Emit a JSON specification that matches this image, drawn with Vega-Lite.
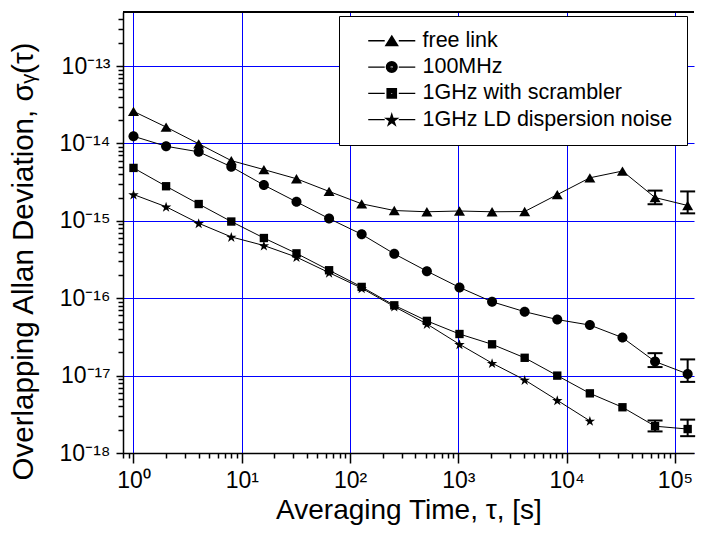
{
  "$schema": "https://vega.github.io/schema/vega-lite/v6.json",
  "width": 571,
  "height": 441,
  "autosize": "none",
  "padding": {"left": 123, "top": 12, "right": 8, "bottom": 82},
  "background": "white",
  "config": {"font": "Liberation Sans", "view": {"stroke": null}},
  "resolve": {"scale": {"shape": "independent"}},
  "data": {"values": [
    {"s": "free link", "t": 1, "v": 2.6e-14},
    {"s": "free link", "t": 2, "v": 1.63e-14},
    {"s": "free link", "t": 4, "v": 9.9e-15},
    {"s": "free link", "t": 8, "v": 6.0e-15},
    {"s": "free link", "t": 16, "v": 4.6e-15},
    {"s": "free link", "t": 32, "v": 3.5e-15},
    {"s": "free link", "t": 64, "v": 2.4e-15},
    {"s": "free link", "t": 128, "v": 1.66e-15},
    {"s": "free link", "t": 256, "v": 1.36e-15},
    {"s": "free link", "t": 512, "v": 1.31e-15},
    {"s": "free link", "t": 1024, "v": 1.34e-15},
    {"s": "free link", "t": 2048, "v": 1.31e-15},
    {"s": "free link", "t": 4096, "v": 1.32e-15},
    {"s": "free link", "t": 8192, "v": 2.18e-15},
    {"s": "free link", "t": 16384, "v": 3.6e-15},
    {"s": "free link", "t": 32768, "v": 4.4e-15},
    {"s": "free link", "t": 65536, "v": 2.0e-15, "lo": 1.64e-15, "hi": 2.46e-15},
    {"s": "free link", "t": 131072, "v": 1.58e-15, "lo": 1.25e-15, "hi": 2.4e-15},
    {"s": "100MHz", "t": 1, "v": 1.24e-14},
    {"s": "100MHz", "t": 2, "v": 9.2e-15},
    {"s": "100MHz", "t": 4, "v": 7.8e-15},
    {"s": "100MHz", "t": 8, "v": 5.0e-15},
    {"s": "100MHz", "t": 16, "v": 2.9e-15},
    {"s": "100MHz", "t": 32, "v": 1.76e-15},
    {"s": "100MHz", "t": 64, "v": 1.07e-15},
    {"s": "100MHz", "t": 128, "v": 6.7e-16},
    {"s": "100MHz", "t": 256, "v": 3.75e-16},
    {"s": "100MHz", "t": 512, "v": 2.24e-16},
    {"s": "100MHz", "t": 1024, "v": 1.38e-16},
    {"s": "100MHz", "t": 2048, "v": 9.0e-17},
    {"s": "100MHz", "t": 4096, "v": 6.7e-17},
    {"s": "100MHz", "t": 8192, "v": 5.3e-17},
    {"s": "100MHz", "t": 16384, "v": 4.5e-17},
    {"s": "100MHz", "t": 32768, "v": 3.1e-17},
    {"s": "100MHz", "t": 65536, "v": 1.52e-17, "lo": 1.29e-17, "hi": 1.95e-17},
    {"s": "100MHz", "t": 131072, "v": 1.05e-17, "lo": 8.3e-18, "hi": 1.62e-17},
    {"s": "1GHz with scrambler", "t": 1, "v": 4.83e-15},
    {"s": "1GHz with scrambler", "t": 2, "v": 2.8e-15},
    {"s": "1GHz with scrambler", "t": 4, "v": 1.65e-15},
    {"s": "1GHz with scrambler", "t": 8, "v": 9.8e-16},
    {"s": "1GHz with scrambler", "t": 16, "v": 6.0e-16},
    {"s": "1GHz with scrambler", "t": 32, "v": 3.8e-16},
    {"s": "1GHz with scrambler", "t": 64, "v": 2.3e-16},
    {"s": "1GHz with scrambler", "t": 128, "v": 1.4e-16},
    {"s": "1GHz with scrambler", "t": 256, "v": 8.1e-17},
    {"s": "1GHz with scrambler", "t": 512, "v": 5.1e-17},
    {"s": "1GHz with scrambler", "t": 1024, "v": 3.45e-17},
    {"s": "1GHz with scrambler", "t": 2048, "v": 2.54e-17},
    {"s": "1GHz with scrambler", "t": 4096, "v": 1.7e-17},
    {"s": "1GHz with scrambler", "t": 8192, "v": 1.0e-17},
    {"s": "1GHz with scrambler", "t": 16384, "v": 5.9e-18},
    {"s": "1GHz with scrambler", "t": 32768, "v": 3.9e-18},
    {"s": "1GHz with scrambler", "t": 65536, "v": 2.22e-18, "lo": 1.9e-18, "hi": 2.63e-18},
    {"s": "1GHz with scrambler", "t": 131072, "v": 2.04e-18, "lo": 1.65e-18, "hi": 2.7e-18},
    {"s": "1GHz LD dispersion noise", "t": 1, "v": 2.19e-15},
    {"s": "1GHz LD dispersion noise", "t": 2, "v": 1.52e-15},
    {"s": "1GHz LD dispersion noise", "t": 4, "v": 9.3e-16},
    {"s": "1GHz LD dispersion noise", "t": 8, "v": 6.2e-16},
    {"s": "1GHz LD dispersion noise", "t": 16, "v": 4.8e-16},
    {"s": "1GHz LD dispersion noise", "t": 32, "v": 3.4e-16},
    {"s": "1GHz LD dispersion noise", "t": 64, "v": 2.14e-16},
    {"s": "1GHz LD dispersion noise", "t": 128, "v": 1.35e-16},
    {"s": "1GHz LD dispersion noise", "t": 256, "v": 7.8e-17},
    {"s": "1GHz LD dispersion noise", "t": 512, "v": 4.65e-17},
    {"s": "1GHz LD dispersion noise", "t": 1024, "v": 2.54e-17},
    {"s": "1GHz LD dispersion noise", "t": 2048, "v": 1.45e-17},
    {"s": "1GHz LD dispersion noise", "t": 4096, "v": 8.8e-18},
    {"s": "1GHz LD dispersion noise", "t": 8192, "v": 4.8e-18},
    {"s": "1GHz LD dispersion noise", "t": 16384, "v": 2.6e-18}
  ]},
  "encoding": {
    "x": {
      "field": "t", "type": "quantitative",
      "scale": {"type": "log", "domain": [0.8, 150000], "nice": false},
      "axis": {
        "values": [0.8, 0.9, 1, 2, 3, 4, 5, 6, 7, 8, 9, 10, 20, 30, 40, 50, 60, 70, 80, 90, 100, 200, 300, 400, 500, 600, 700, 800, 900, 1000, 2000, 3000, 4000, 5000, 6000, 7000, 8000, 9000, 10000, 20000, 30000, 40000, 50000, 60000, 70000, 80000, 90000, 100000],
        "labelExpr": "abs(log(datum.value)/LN10 - round(log(datum.value)/LN10)) < 1e-6 ? '10' + substring('⁰¹²³⁴⁵⁶⁷⁸⁹', round(log(datum.value)/LN10), round(log(datum.value)/LN10) + 1) : ''",
        "tickSize": {"condition": {"test": "abs(log(datum.value)/LN10 - round(log(datum.value)/LN10)) < 1e-6", "value": 10}, "value": 5},
        "grid": true,
        "gridColor": "#0000ff",
        "gridWidth": 1,
        "gridOpacity": {"condition": {"test": "abs(log(datum.value)/LN10 - round(log(datum.value)/LN10)) < 1e-6", "value": 1}, "value": 0},
        "domainColor": "black", "domainWidth": 1.5,
        "tickColor": "black", "tickWidth": 1.5,
        "labelFont": "Liberation Sans", "labelFontSize": 23, "labelColor": "black",
        "labelPadding": 6, "labelOverlap": false, "labelFlush": false, "labelBound": false,
        "title": "Averaging Time, τ, [s]",
        "titleFont": "Liberation Sans", "titleFontSize": 28, "titleFontWeight": "normal", "titleColor": "black",
        "titleBaseline": "alphabetic", "titleY": 65
      }
    },
    "y": {
      "field": "v", "type": "quantitative",
      "scale": {"type": "log", "domain": [1e-18, 5e-13], "nice": false},
      "axis": {
        "values": [1e-18, 2e-18, 3e-18, 4e-18, 5e-18, 6e-18, 7e-18, 8e-18, 9e-18, 1e-17, 2e-17, 3e-17, 4e-17, 5e-17, 6e-17, 7e-17, 8e-17, 9e-17, 1e-16, 2e-16, 3e-16, 4e-16, 5e-16, 6e-16, 7e-16, 8e-16, 9e-16, 1e-15, 2e-15, 3e-15, 4e-15, 5e-15, 6e-15, 7e-15, 8e-15, 9e-15, 1e-14, 2e-14, 3e-14, 4e-14, 5e-14, 6e-14, 7e-14, 8e-14, 9e-14, 1e-13, 2e-13, 3e-13, 4e-13],
        "labelExpr": "abs(log(datum.value)/LN10 - round(log(datum.value)/LN10)) < 1e-6 ? '10⁻¹' + substring('⁰¹²³⁴⁵⁶⁷⁸⁹', -round(log(datum.value)/LN10) - 10, -round(log(datum.value)/LN10) - 9) : ''",
        "tickSize": {"condition": {"test": "abs(log(datum.value)/LN10 - round(log(datum.value)/LN10)) < 1e-6", "value": 7}, "value": 5},
        "grid": true,
        "gridColor": "#0000ff",
        "gridWidth": 1,
        "gridOpacity": {"condition": {"test": "abs(log(datum.value)/LN10 - round(log(datum.value)/LN10)) < 1e-6", "value": 1}, "value": 0},
        "domainColor": "black", "domainWidth": 1.5,
        "tickColor": "black", "tickWidth": 1.5,
        "labelFont": "Liberation Sans", "labelFontSize": 23, "labelColor": "black",
        "labelPadding": 6, "labelOverlap": false, "labelFlush": false, "labelBound": false,
        "title": "Overlapping Allan Deviation, σᵧ(τ)",
        "titleFont": "Liberation Sans", "titleFontSize": 29.5, "titleFontWeight": "normal", "titleColor": "black",
        "titleAngle": -90, "titleAlign": "center", "titleBaseline": "alphabetic",
        "titleX": -91, "titleY": 249
      }
    }
  },
  "layer": [
    {
      "mark": {"type": "rule", "color": "black", "strokeWidth": 1.5},
      "encoding": {"x": null, "y": {"datum": 5e-13, "type": "quantitative"}}
    },
    {
      "mark": {"type": "line", "color": "black", "strokeWidth": 1},
      "encoding": {"detail": {"field": "s", "type": "nominal"}}
    },
    {
      "transform": [{"filter": "isValid(datum.lo)"}],
      "mark": {"type": "rule", "color": "black", "strokeWidth": 2},
      "encoding": {
        "y": {"field": "lo", "type": "quantitative"},
        "y2": {"field": "hi"}
      }
    },
    {
      "transform": [{"filter": "isValid(datum.lo)"}],
      "mark": {"type": "tick", "orient": "horizontal", "color": "black", "size": 15, "thickness": 2, "opacity": 1},
      "encoding": {
        "y": {"field": "hi", "type": "quantitative"}
      }
    },
    {
      "transform": [{"filter": "isValid(datum.lo)"}],
      "mark": {"type": "tick", "orient": "horizontal", "color": "black", "size": 15, "thickness": 2, "opacity": 1},
      "encoding": {
        "y": {"field": "lo", "type": "quantitative"}
      }
    },
    {
      "mark": {"type": "point", "filled": true, "color": "black", "opacity": 1, "strokeWidth": 0, "size": 121},
      "encoding": {
        "shape": {
          "field": "s", "type": "nominal",
          "scale": {
            "domain": ["free link", "100MHz", "1GHz with scrambler", "1GHz LD dispersion noise"],
            "range": [
              "M0,-0.85L1,0.85L-1,0.85Z",
              "M0.91,0A0.91,0.91,0,1,1,-0.91,0A0.91,0.91,0,1,1,0.91,0Z",
              "M-0.76,-0.76L0.76,-0.76L0.76,0.76L-0.76,0.76Z",
              "M0,-0.905L0.225,-0.214L0.951,-0.214L0.363,0.214L0.588,0.905L0,0.478L-0.588,0.905L-0.363,0.214L-0.951,-0.214L-0.225,-0.214Z"
            ]
          },
          "legend": null
        }
      }
    },
    {
      "mark": {"type": "point", "filled": false, "color": "black", "opacity": 0, "strokeWidth": 1.3, "size": 144},
      "encoding": {
        "shape": {
          "field": "s", "type": "nominal",
          "scale": {
            "domain": ["free link", "100MHz", "1GHz with scrambler", "1GHz LD dispersion noise"],
            "range": [
              "M-3.92,0L-1.17,0M1.17,0L3.92,0M0,-0.8L1,0.8L-1,0.8ZM-0.125,-0.6L0.125,-0.6M-0.25,-0.4L0.25,-0.4M-0.375,-0.2L0.375,-0.2M-0.5,0L0.5,0M-0.625,0.2L0.625,0.2M-0.75,0.4L0.75,0.4M-0.875,0.6L0.875,0.6",
              "M-3.92,0L-1.17,0M1.17,0L3.92,0M0.9,0A0.9,0.9,0,1,1,-0.9,0A0.9,0.9,0,1,1,0.9,0ZM0.7,0A0.7,0.7,0,1,1,-0.7,0A0.7,0.7,0,1,1,0.7,0ZM0.5,0A0.5,0.5,0,1,1,-0.5,0A0.5,0.5,0,1,1,0.5,0ZM0.3,0A0.3,0.3,0,1,1,-0.3,0A0.3,0.3,0,1,1,0.3,0ZM-0.1,0L0.1,0",
              "M-3.92,0L-1.17,0M1.17,0L3.92,0M-0.78,-0.78L0.78,-0.78L0.78,0.78L-0.78,0.78ZM-0.58,-0.58L0.58,-0.58L0.58,0.58L-0.58,0.58ZM-0.38,-0.38L0.38,-0.38L0.38,0.38L-0.38,0.38ZM-0.18,-0.18L0.18,-0.18L0.18,0.18L-0.18,0.18Z",
              "M-3.92,0L-1.17,0M1.17,0L3.92,0M0,-0.905L0.225,-0.214L0.951,-0.214L0.363,0.214L0.588,0.905L0,0.478L-0.588,0.905L-0.363,0.214L-0.951,-0.214L-0.225,-0.214ZM0,-0.543L0.135,-0.128L0.571,-0.128L0.218,0.128L0.353,0.543L0,0.287L-0.353,0.543L-0.218,0.128L-0.571,-0.128L-0.135,-0.128ZM0,-0.272L0.068,-0.064L0.285,-0.064L0.109,0.064L0.176,0.272L0,0.143L-0.176,0.272L-0.109,0.064L-0.285,-0.064L-0.068,-0.064Z"
            ]
          },
          "legend": {
            "title": " ", "titleOrient": "left", "titlePadding": 28, "titleFontSize": 21.5,
            "orient": "none", "legendX": 216, "legendY": 4,
            "padding": 14, "strokeColor": "black", "fillColor": "white",
            "labelFont": "Liberation Sans", "labelFontSize": 21.5, "labelColor": "black",
            "labelOffset": 20, "rowPadding": 3.3, "labelLimit": 0,
            "labelExpr": "datum.label + ' '",
            "symbolSize": 144, "symbolStrokeWidth": 1.3, "symbolStrokeColor": "black", "symbolFillColor": "black", "symbolOpacity": 1
          }
        }
      }
    }
  ]
}
